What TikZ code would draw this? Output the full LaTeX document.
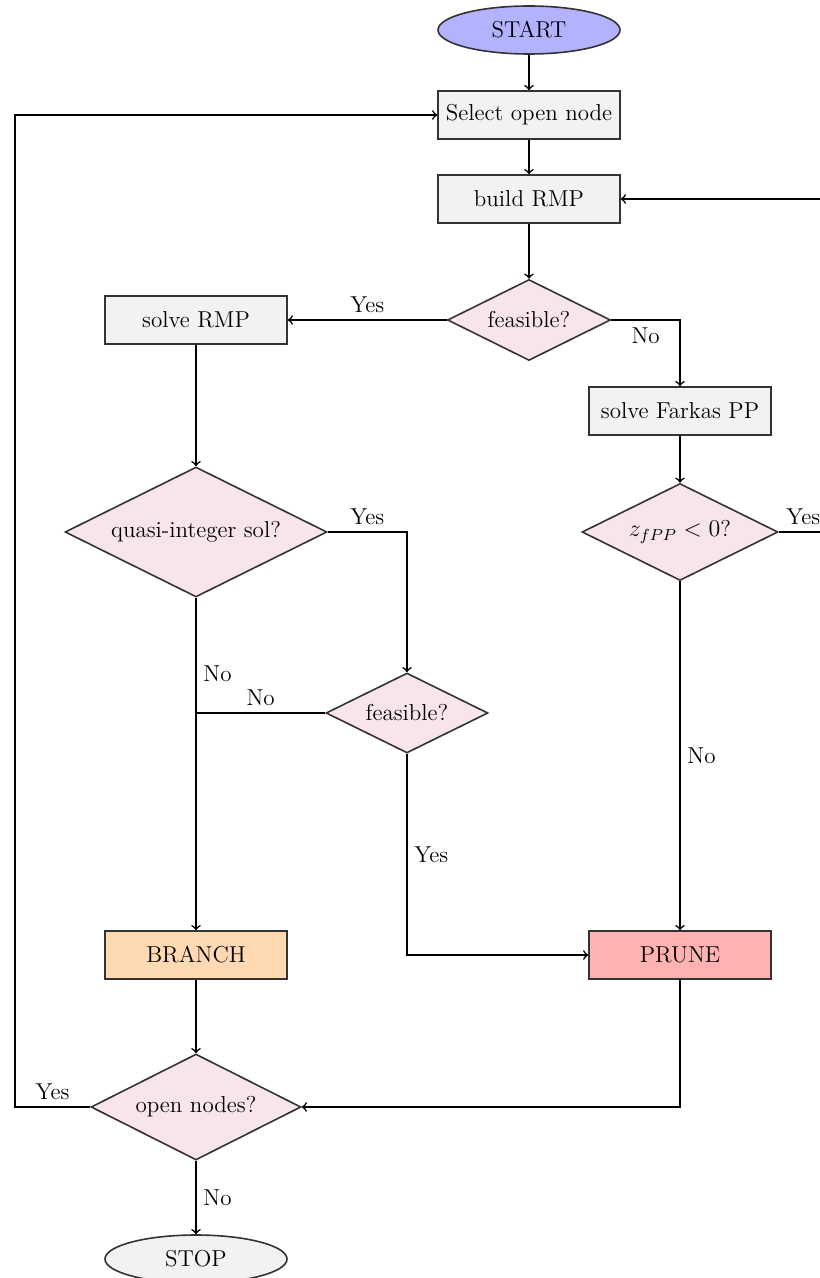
\documentclass[tikz,border=0pt]{standalone}
\usepackage{fontspec}
\usetikzlibrary{shapes.geometric}
\definecolor{decfill}{RGB}{248,229,236}
\definecolor{bordercol}{RGB}{51,51,51}
\begin{document}
\begin{tikzpicture}[x=0.5pt,y=-0.5pt,
  txt/.style={font=\fontsize{11.5}{14}\selectfont\addfontfeature{LetterSpace=4}},
  base/.style={txt, draw=bordercol, line width=0.8pt, inner sep=0pt},
  proc/.style={base, rectangle, fill=black!5, minimum width=91pt, minimum height=24pt},
  dec/.style={base, diamond, aspect=2, fill=decfill},
  term/.style={base, ellipse, minimum width=91pt, minimum height=24pt},
  conn/.style={draw=black, line width=0.8pt},
  arr/.style={conn, ->},
  lab/.style={txt}
]
\useasboundingbox (0,0) rectangle (819,1278);

\node[term, fill=blue!30] (start) at (529,30) {START};
\node[proc] (select) at (529,115) {Select open node};
\node[proc] (build) at (529,199) {build RMP};
\node[dec, minimum width=81.5pt, minimum height=40.5pt] (feas) at (529,320) {feasible?};
\node[proc] (solve) at (196,320) {solve RMP};
\node[proc] (farkas) at (680,411) {solve Farkas PP};
\node[dec, minimum width=98pt, minimum height=48.5pt] (z) at (680,532) {$z_{fPP} < 0$?};
\node[dec, minimum width=131pt, minimum height=65pt] (quasi) at (196,532) {quasi-integer sol?};
\node[dec, minimum width=81pt, minimum height=40pt] (feastwo) at (407,713) {feasible?};
\node[proc, fill=orange!30] (branch) at (196,955) {BRANCH};
\node[proc, fill=red!30] (prune) at (680,955) {PRUNE};
\node[dec, minimum width=105pt, minimum height=53pt] (open) at (196,1107) {open nodes?};
\node[term, fill=black!5] (stop) at (196,1259) {STOP};

\coordinate (rt) at (828,532);
\coordinate (lt) at (15,1107);
\coordinate (jn) at (196,713);

\draw[arr] (start) -- (select);
\draw[arr] (select) -- (build);
\draw[arr] (build) -- (feas);
\draw[arr] (feas) -- node[lab, above] {Yes} (solve);
\draw[arr] (feas.east) -| node[lab, pos=0.25, below] {No} (farkas.north);
\draw[arr] (farkas) -- (z);
\draw[arr] (z.east) -- node[lab, above] {Yes} (rt) |- (build.east);
\draw[arr] (solve) -- (quasi);
\draw[arr] (quasi.east) -| node[lab, pos=0.25, above] {Yes} (feastwo.north);
\draw[arr] (quasi.south) -- node[lab, pos=0.23, right] {No} (branch.north);
\draw[conn] (feastwo.west) -- node[lab, above] {No} (jn);
\draw[arr] (z.south) -- node[lab, right] {No} (prune.north);
\draw[arr] (feastwo.south) |- node[lab, pos=0.25, right] {Yes} (prune.west);
\draw[arr] (branch) -- (open);
\draw[arr] (prune.south) |- (open.east);
\draw[arr] (open.west) -- node[lab, above] {Yes} (lt) |- (select.west);
\draw[arr] (open) -- node[lab, right] {No} (stop);
\end{tikzpicture}
\end{document}
